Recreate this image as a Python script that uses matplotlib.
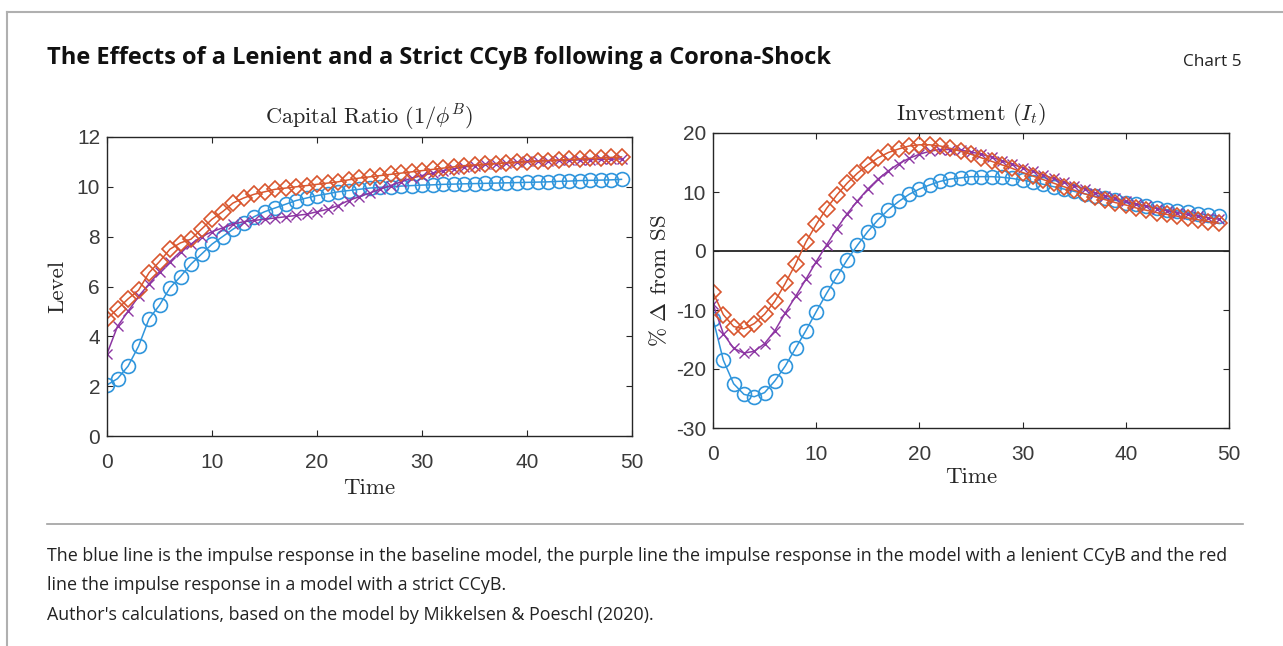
import matplotlib
matplotlib.use('Agg')
import matplotlib.pyplot as plt
from matplotlib.lines import Line2D
import numpy as np

plt.rcParams['mathtext.fontset'] = 'cm'
plt.rcParams['axes.unicode_minus'] = False

# periods after the shock
t = list(range(50))

# capital ratio (level)
cap_base = [2.05, 2.3, 2.8, 3.6, 4.7, 5.25, 5.95, 6.4, 6.9, 7.3,
            7.7, 8.0, 8.3, 8.55, 8.8, 9.0, 9.15, 9.3, 9.45, 9.55,
            9.65, 9.72, 9.8, 9.85, 9.9, 9.95, 9.98, 10.0, 10.03, 10.05,
            10.07, 10.08, 10.1, 10.11, 10.12, 10.13, 10.14, 10.15, 10.16, 10.17,
            10.18, 10.19, 10.2, 10.22, 10.23, 10.25, 10.26, 10.27, 10.28, 10.3]
cap_lenient = [3.3, 4.4, 5.0, 5.6, 6.1, 6.6, 7.0, 7.4, 7.7, 8.0,
               8.2, 8.35, 8.5, 8.6, 8.65, 8.7, 8.75, 8.8, 8.85, 8.9,
               9.0, 9.1, 9.25, 9.45, 9.6, 9.75, 9.9, 10.05, 10.2, 10.35,
               10.45, 10.55, 10.65, 10.72, 10.8, 10.85, 10.9, 10.93, 10.96, 11.0,
               11.02, 11.04, 11.05, 11.06, 11.07, 11.08, 11.09, 11.1, 11.11, 11.12]
cap_strict = [4.7, 5.1, 5.5, 5.85, 6.55, 7.0, 7.5, 7.75, 7.9, 8.3,
              8.7, 9.0, 9.35, 9.55, 9.7, 9.8, 9.9, 9.95, 10.0, 10.05,
              10.1, 10.15, 10.2, 10.28, 10.35, 10.4, 10.45, 10.5, 10.55, 10.6,
              10.65, 10.7, 10.75, 10.8, 10.85, 10.88, 10.9, 10.93, 10.96, 10.98,
              11.0, 11.03, 11.05, 11.08, 11.1, 11.12, 11.14, 11.16, 11.18, 11.2]

# investment (% deviation from steady state)
inv_base = [-11.5, -18.5, -22.5, -24.3, -24.7, -24.0, -22.0, -19.5, -16.5, -13.5,
            -10.3, -7.2, -4.3, -1.5, 1.0, 3.3, 5.3, 7.0, 8.4, 9.6,
            10.5, 11.2, 11.8, 12.2, 12.4, 12.6, 12.6, 12.6, 12.5, 12.3,
            12.0, 11.7, 11.3, 10.9, 10.5, 10.1, 9.7, 9.3, 8.9, 8.6,
            8.2, 7.9, 7.6, 7.3, 7.0, 6.8, 6.6, 6.3, 6.1, 5.9]
inv_lenient = [-9.0, -14.0, -16.5, -17.3, -17.0, -15.7, -13.5, -10.5, -7.7, -4.8,
               -1.8, 1.0, 3.8, 6.3, 8.5, 10.5, 12.2, 13.6, 14.8, 15.7,
               16.4, 16.9, 17.2, 17.2, 17.1, 16.8, 16.4, 15.9, 15.3, 14.7,
               14.1, 13.5, 12.9, 12.3, 11.7, 11.1, 10.5, 9.9, 9.4, 8.9,
               8.4, 8.0, 7.6, 7.2, 6.8, 6.5, 6.2, 5.9, 5.6, 5.4]
inv_strict = [-7.0, -10.8, -12.8, -13.2, -12.3, -10.7, -8.5, -5.5, -2.2, 1.5,
              4.5, 7.2, 9.5, 11.5, 13.2, 14.6, 15.8, 16.7, 17.3, 17.8,
              18.0, 18.0, 17.8, 17.4, 16.9, 16.4, 15.8, 15.2, 14.6, 14.0,
              13.3, 12.7, 12.1, 11.5, 10.9, 10.3, 9.7, 9.2, 8.7, 8.2,
              7.8, 7.3, 6.9, 6.5, 6.2, 5.9, 5.6, 5.3, 5.0, 4.7]

blue = '#2f95dc'
purple = '#8d36a3'
red = '#d9562e'
axcol = '#262626'
serif = 'cmr10'

fig = plt.figure(figsize=(12.83, 6.46), dpi=100)

# frame lines of the page
fig.add_artist(Line2D([7/1283, 1], [1-12/646, 1-12/646], color='#b0b0b0', lw=1.5))
fig.add_artist(Line2D([7/1283, 7/1283], [0, 1-12/646], color='#b0b0b0', lw=1.5))
fig.add_artist(Line2D([47/1283, 1243/1283], [1-524/646, 1-524/646], color='#a0a0a0', lw=1.2))

fig.text(47/1283, 1-58/646, 'The Effects of a Lenient and a Strict CCyB following a Corona-Shock',
         family='Open Sans', weight='bold', fontsize=17, va='center', ha='left', color='#111111')
fig.text(1242/1283, 1-62/646, 'Chart 5', family='Open Sans', fontsize=12.4,
         va='center', ha='right', color='#222222')

note = 12.9
fig.text(47/1283, 1-556/646, 'The blue line is the impulse response in the baseline model, the purple line the impulse '
         'response in the model with a lenient CCyB and the red', family='Open Sans', fontsize=note,
         va='center', ha='left', color='#222222')
fig.text(47/1283, 1-585/646, 'line the impulse response in a model with a strict CCyB.',
         family='Open Sans', fontsize=note, va='center', ha='left', color='#222222')
fig.text(47/1283, 1-615/646, "Author's calculations, based on the model by Mikkelsen & Poeschl (2020).",
         family='Open Sans', fontsize=note, va='center', ha='left', color='#222222')


def style(ax):
    for s in ax.spines.values():
        s.set_color(axcol)
        s.set_linewidth(1.0)
    ax.tick_params(direction='in', top=True, right=True, length=4, width=0.8,
                   colors=axcol, labelsize=15)
    ax.tick_params(axis='x', pad=12)
    ax.tick_params(axis='y', pad=5)
    for lab in ax.get_xticklabels() + ax.get_yticklabels():
        lab.set_family('Liberation Sans')
        lab.set_color('#3a3a3a')
    ax.set_xlim(0, 50)
    ax.set_xticks([0, 10, 20, 30, 40, 50])


def draw(ax, base, lenient, strict):
    ax.plot(t, base, color=blue, lw=1.1, marker='o', ms=10, mfc='none', mew=1.2)
    ax.plot(t, lenient, color=purple, lw=1.1, marker='x', ms=6.5, mew=1.0)
    ax.plot(t, strict, color=red, lw=1.1, marker='D', ms=8, mfc='none', mew=1.2)


ax1 = fig.add_axes([107/1283, 1-436/646, 525/1283, 299/646])
draw(ax1, cap_base, cap_lenient, cap_strict)
ax1.set_ylim(0, 12)
ax1.set_yticks([0, 2, 4, 6, 8, 10, 12])
style(ax1)
ax1.set_title(r'Capital Ratio $(1/\phi^B)$', family=serif, fontsize=16, color=axcol, pad=9)
ax1.set_xlabel('Time', family=serif, fontsize=16.5, color=axcol, labelpad=5)
ax1.set_ylabel('Level', family=serif, fontsize=16.5, color=axcol, labelpad=7)

ax2 = fig.add_axes([713/1283, 1-428/646, 516/1283, 295/646])
ax2.axhline(0, color='#111111', lw=1.2, zorder=1)
draw(ax2, inv_base, inv_lenient, inv_strict)
ax2.set_ylim(-30, 20)
ax2.set_yticks([-30, -20, -10, 0, 10, 20])
style(ax2)
ax2.set_title(r'Investment $(I_t)$', family=serif, fontsize=16, color=axcol, pad=9)
ax2.set_xlabel('Time', family=serif, fontsize=16.5, color=axcol, labelpad=3)
ax2.set_ylabel(r'$\%\ \Delta$ from SS', family=serif, fontsize=16.5, color=axcol, labelpad=4)

fig.savefig('out.png', dpi=100, facecolor='white')
